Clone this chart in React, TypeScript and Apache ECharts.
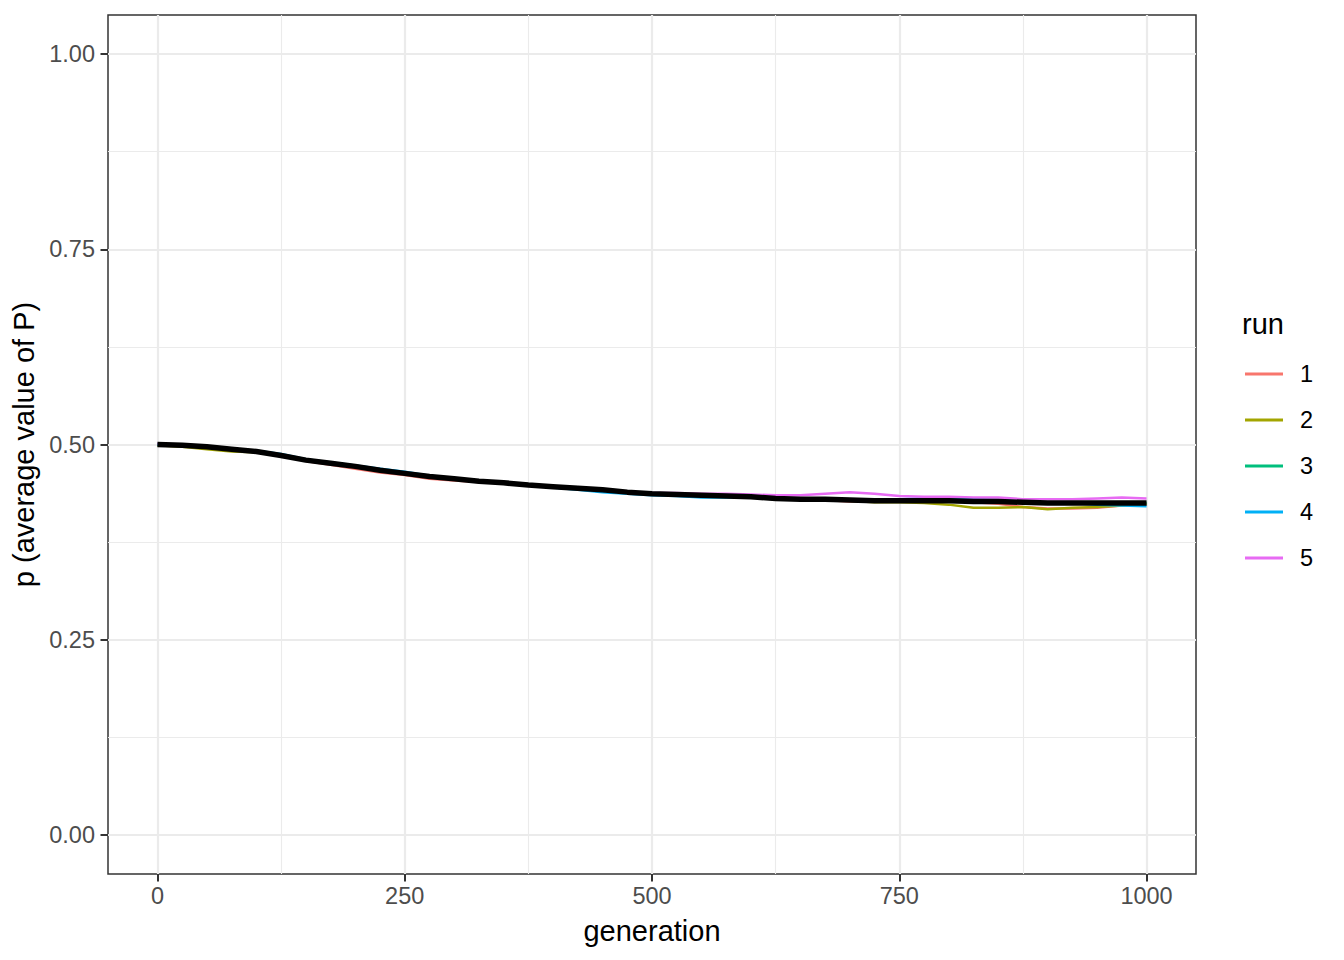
import React, { useEffect, useRef } from "react";
import * as echarts from "echarts";

const generations = [0, 25, 50, 75, 100, 125, 150, 175, 200, 225, 250, 275, 300, 325, 350, 375, 400, 425, 450, 475, 500, 525, 550, 575, 600, 625, 650, 675, 700, 725, 750, 775, 800, 825, 850, 875, 900, 925, 950, 975, 1000];

const run1 = [0.500, 0.499, 0.497, 0.494, 0.491, 0.486, 0.479, 0.474, 0.469, 0.464, 0.461, 0.456, 0.454, 0.452, 0.451, 0.448, 0.447, 0.444, 0.442, 0.439, 0.437, 0.436, 0.435, 0.434, 0.432, 0.431, 0.430, 0.429, 0.427, 0.427, 0.428, 0.428, 0.427, 0.426, 0.424, 0.420, 0.418, 0.418, 0.419, 0.422, 0.423];
const run2 = [0.499, 0.497, 0.494, 0.491, 0.490, 0.486, 0.480, 0.476, 0.473, 0.467, 0.463, 0.459, 0.455, 0.453, 0.451, 0.448, 0.446, 0.444, 0.442, 0.439, 0.437, 0.436, 0.435, 0.434, 0.433, 0.431, 0.430, 0.429, 0.428, 0.426, 0.426, 0.425, 0.423, 0.419, 0.419, 0.420, 0.417, 0.419, 0.420, 0.422, 0.424];
const run3 = [0.500, 0.499, 0.498, 0.494, 0.491, 0.485, 0.480, 0.477, 0.472, 0.467, 0.464, 0.459, 0.456, 0.452, 0.451, 0.449, 0.446, 0.444, 0.443, 0.439, 0.436, 0.436, 0.435, 0.433, 0.433, 0.431, 0.431, 0.430, 0.428, 0.427, 0.429, 0.428, 0.428, 0.428, 0.427, 0.426, 0.426, 0.425, 0.425, 0.426, 0.425];
const run4 = [0.500, 0.499, 0.497, 0.494, 0.492, 0.488, 0.481, 0.477, 0.473, 0.469, 0.465, 0.460, 0.457, 0.453, 0.451, 0.448, 0.445, 0.442, 0.439, 0.437, 0.435, 0.434, 0.432, 0.432, 0.432, 0.431, 0.430, 0.430, 0.429, 0.429, 0.430, 0.431, 0.431, 0.430, 0.429, 0.427, 0.426, 0.425, 0.423, 0.422, 0.421];
const run5 = [0.501, 0.500, 0.498, 0.494, 0.491, 0.486, 0.480, 0.476, 0.472, 0.467, 0.463, 0.459, 0.456, 0.453, 0.451, 0.449, 0.446, 0.445, 0.443, 0.439, 0.438, 0.438, 0.437, 0.437, 0.436, 0.435, 0.435, 0.437, 0.439, 0.437, 0.434, 0.433, 0.433, 0.432, 0.432, 0.430, 0.430, 0.430, 0.431, 0.432, 0.431];
const meanRun = [0.500, 0.499, 0.497, 0.494, 0.491, 0.486, 0.480, 0.476, 0.472, 0.467, 0.463, 0.459, 0.456, 0.453, 0.451, 0.448, 0.446, 0.444, 0.442, 0.439, 0.437, 0.436, 0.435, 0.434, 0.433, 0.431, 0.430, 0.430, 0.429, 0.428, 0.428, 0.428, 0.428, 0.427, 0.427, 0.426, 0.425, 0.425, 0.425, 0.425, 0.425];

const runNames = ["1", "2", "3", "4", "5"];
const runs = [run1, run2, run3, run4, run5];
const runColors = ["#F8766D", "#A3A500", "#00BF7D", "#00B0F6", "#E76BF3"];

const xMajor = [0, 250, 500, 750, 1000];
const xMinor = [125, 375, 625, 875];
const yMajor = [0, 0.25, 0.5, 0.75, 1];
const yMinor = [0.125, 0.375, 0.625, 0.875];

const FONT = "Liberation Sans, Arial, Helvetica, sans-serif";

export default function App() {
  const ref = useRef<HTMLDivElement>(null);
  useEffect(() => {
    if (!ref.current) return;
    const chart = echarts.init(ref.current, null, { renderer: "svg" });
    const toPairs = (vals: number[]) => generations.map((g, i) => [g, vals[i]]);
    const option: any = {
      animation: false,
      backgroundColor: "#ffffff",
      textStyle: { fontFamily: FONT },
      grid: {
        left: 108,
        top: 15,
        width: 1088,
        height: 859,
        show: true,
        borderColor: "#333333",
        borderWidth: 1.5,
        backgroundColor: "#ffffff",
        containLabel: false,
      },
      xAxis: [
        {
          type: "value",
          min: -50,
          max: 1050,
          position: "bottom",
          axisLine: { show: false, onZero: false },
          axisTick: { show: true, inside: false, customValues: xMajor, length: 7.5, lineStyle: { color: "#333333", width: 2 } },
          axisLabel: {
            customValues: xMajor,
            fontSize: 23.5,
            color: "#4D4D4D",
            margin: 10,
            fontFamily: FONT,
            formatter: (v: number) => String(v),
          },
          splitLine: { show: true, lineStyle: { color: "#EBEBEB", width: 2.2 } },
          name: "generation",
          nameLocation: "middle",
          nameGap: 42,
          nameTextStyle: { fontSize: 29, color: "#000000", fontFamily: FONT },
          z: 1,
        },
        {
          type: "value",
          min: -50,
          max: 1050,
          position: "bottom",
          axisLine: { show: false, onZero: false },
          axisTick: { show: false, customValues: xMinor },
          axisLabel: { show: false, customValues: xMinor },
          splitLine: { show: true, lineStyle: { color: "#EBEBEB", width: 1.1 } },
          z: 0,
        },
      ],
      yAxis: [
        {
          type: "value",
          min: -0.05,
          max: 1.05,
          position: "left",
          axisLine: { show: false, onZero: false },
          axisTick: { show: true, inside: false, customValues: yMajor, length: 7.5, lineStyle: { color: "#333333", width: 2 } },
          axisLabel: {
            customValues: yMajor,
            fontSize: 23.5,
            color: "#4D4D4D",
            margin: 13,
            fontFamily: FONT,
            formatter: (v: number) => v.toFixed(2),
          },
          splitLine: { show: true, lineStyle: { color: "#EBEBEB", width: 2.2 } },
          name: "p (average value of P)",
          nameLocation: "middle",
          nameGap: 57,
          nameRotate: 90,
          nameTextStyle: { fontSize: 29, color: "#000000", fontFamily: FONT },
          z: 1,
        },
        {
          type: "value",
          min: -0.05,
          max: 1.05,
          position: "left",
          axisLine: { show: false, onZero: false },
          axisTick: { show: false, customValues: yMinor },
          axisLabel: { show: false, customValues: yMinor },
          splitLine: { show: true, lineStyle: { color: "#EBEBEB", width: 1.1 } },
          z: 0,
        },
      ],
      legend: {
        data: runNames,
        orient: "vertical",
        left: 1245,
        top: 351,
        padding: 0,
        icon: "rect",
        itemWidth: 38,
        itemHeight: 3,
        itemGap: 0,
        textStyle: {
          fontSize: 23.5,
          color: "#000000",
          lineHeight: 46,
          padding: [0, 0, 0, 12],
          fontFamily: FONT,
        },
      },
      graphic: [
        {
          type: "text",
          left: 1242,
          top: 309,
          style: { text: "run", fontSize: 29, fill: "#000000", fontFamily: FONT },
        },
      ],
      series: [
        ...runs.map((vals, i) => ({
          type: "line",
          name: runNames[i],
          data: toPairs(vals),
          showSymbol: false,
          symbol: "none",
          lineStyle: { color: runColors[i], width: 2.5 },
          itemStyle: { color: runColors[i] },
          z: 2,
        })),
        {
          type: "line",
          name: "mean",
          data: toPairs(meanRun),
          showSymbol: false,
          symbol: "none",
          lineStyle: { color: "#000000", width: 5.5 },
          itemStyle: { color: "#000000" },
          z: 3,
        },
      ],
    };
    chart.setOption(option);
    return () => chart.dispose();
  }, []);
  return <div ref={ref} style={{ position: "absolute", left: 0, top: 0, width: 1344, height: 960 }} />;
}
